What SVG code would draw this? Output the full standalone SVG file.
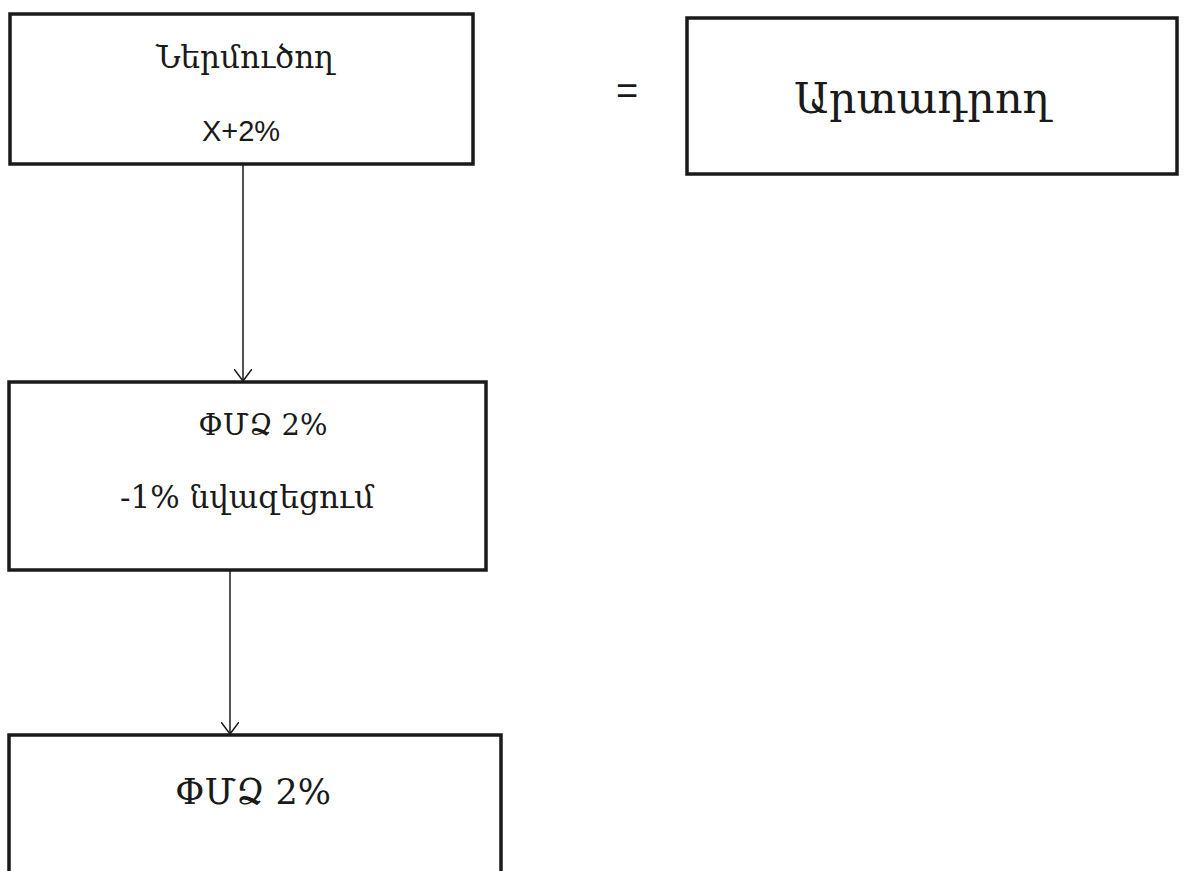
<svg xmlns="http://www.w3.org/2000/svg" width="1188" height="871" viewBox="0 0 1188 871">
<style>
.box{fill:#fff;stroke:#1a1a1a;stroke-width:3.5}
.arm{font-family:"DejaVu Serif","Liberation Serif",serif;fill:#1a1a1a;text-anchor:middle}
.lat{font-family:"Liberation Sans","DejaVu Sans",sans-serif;fill:#1a1a1a;text-anchor:middle}
.conn{stroke:#1a1a1a;stroke-width:1.5;fill:none}
</style>
<defs>
<marker id="arr" markerWidth="14" markerHeight="18" refX="12" refY="9" orient="auto" markerUnits="userSpaceOnUse">
<path d="M0,0 L12,9 L0,18" fill="none" stroke="#1a1a1a" stroke-width="1.5"/>
</marker>
</defs>
<rect width="1188" height="871" fill="#fff"/>
<g id="n-importer">
<rect class="box" x="10" y="14" width="463" height="150"/>
<text class="arm" x="245" y="68" font-size="31">Ներմուծող</text>
<text class="lat" x="241" y="141" font-size="29">X+2%</text>
</g>
<g id="n-equals">
<text class="lat" x="627" y="104" font-size="38">=</text>
</g>
<g id="n-producer">
<rect class="box" x="687" y="18" width="490" height="156"/>
<text class="arm" x="922" y="113" font-size="43">Արտադրող</text>
</g>
<g id="n-sme1">
<rect class="box" x="9" y="382" width="477" height="188"/>
<text class="arm" x="263" y="435" font-size="29">ՓՄՁ 2%</text>
<text class="arm" x="247" y="508" font-size="31">-1% նվազեցում</text>
</g>
<g id="n-sme2">
<rect class="box" x="9" y="735" width="492" height="150"/>
<text class="arm" x="253" y="804" font-size="35">ՓՄՁ 2%</text>
</g>
<g id="connectors">
<line class="conn" x1="243" y1="164" x2="243" y2="381" marker-end="url(#arr)"/>
<line class="conn" x1="230" y1="570" x2="230" y2="734" marker-end="url(#arr)"/>
</g>
</svg>
